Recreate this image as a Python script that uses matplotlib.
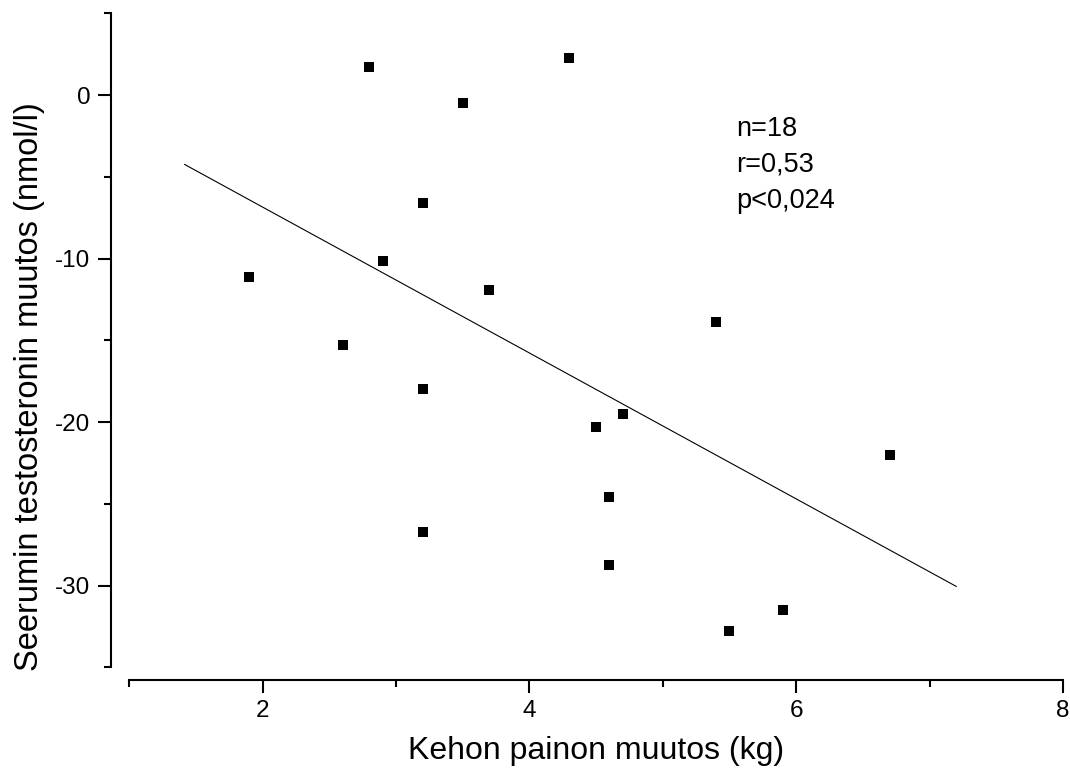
import matplotlib
matplotlib.use("Agg")
import matplotlib.pyplot as plt
from matplotlib.ticker import MultipleLocator

plt.rcParams['font.family'] = ['Liberation Sans', 'DejaVu Sans']
plt.rcParams['axes.unicode_minus'] = False

# weight change (kg) vs. change in serum testosterone (nmol/l)
paino = [2.8, 4.3, 3.5, 3.2, 1.9, 2.9, 3.7, 2.6, 5.4,
         3.2, 4.5, 4.7, 6.7, 4.6, 3.2, 4.6, 5.9, 5.5]
testo = [1.75, 2.3, -0.5, -6.6, -11.1, -10.15, -11.9, -15.3, -13.9,
         -18.0, -20.3, -19.5, -22.0, -24.6, -26.7, -28.75, -31.5, -32.8]

# regression line end points
fit_x = [1.415, 7.2]
fit_y = [-4.24, -30.05]

stats = ["n=18", "r=0,53", "p<0,024"]

fig = plt.figure(figsize=(10.7, 7.73), dpi=100)
ax = fig.add_axes([0.1208, 0.1367, 0.8726, 0.846])

ax.plot(fit_x, fit_y, color='black', linewidth=0.8)
ax.plot(paino, testo, 's', color='black', markersize=7.8, markeredgewidth=0)

ax.set_xlim(1, 8)
ax.set_ylim(-35, 5)
ax.xaxis.set_major_locator(MultipleLocator(2))
ax.xaxis.set_minor_locator(MultipleLocator(1))
ax.yaxis.set_major_locator(MultipleLocator(10))
ax.yaxis.set_minor_locator(MultipleLocator(5))

for side in ['top', 'right']:
    ax.spines[side].set_visible(False)
ax.spines['left'].set_position(('outward', 13.4))
ax.spines['bottom'].set_position(('outward', 9.1))
for side in ['left', 'bottom']:
    ax.spines[side].set_linewidth(1.5)

ax.tick_params(which='major', direction='out', length=9.5, width=1.5,
               labelsize=17.5, pad=5)
ax.tick_params(which='minor', direction='out', length=5.2, width=1.5)

ax.set_xlabel('Kehon painon muutos (kg)', fontsize=23, labelpad=10)
ax.set_ylabel('Seerumin testosteronin muutos (nmol/l)', fontsize=23.5)
ax.yaxis.set_label_coords(-0.09, 0.43)

for i, s in enumerate(stats):
    ax.text(5.55, -2.5 - i * 2.19, s, fontsize=19.5, va='baseline', ha='left')

plt.savefig('out.png', dpi=100)
